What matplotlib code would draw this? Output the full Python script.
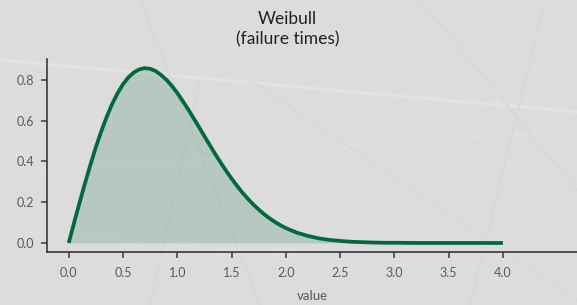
import matplotlib
matplotlib.use("Agg")
import matplotlib.pyplot as plt
from matplotlib.lines import Line2D

# values
x_values = [0.00, 0.05, 0.10, 0.15, 0.20, 0.25, 0.30, 0.35, 0.40, 0.45, 0.50,
            0.55, 0.60, 0.65, 0.70, 0.75, 0.80, 0.85, 0.90, 0.95, 1.00,
            1.05, 1.10, 1.15, 1.20, 1.25, 1.30, 1.35, 1.40, 1.45, 1.50,
            1.55, 1.60, 1.65, 1.70, 1.75, 1.80, 1.85, 1.90, 1.95, 2.00,
            2.10, 2.20, 2.30, 2.40, 2.50, 2.60, 2.70, 2.80, 2.90, 3.00,
            3.20, 3.50, 4.00]
density = [0.000, 0.100, 0.198, 0.293, 0.384, 0.470, 0.548, 0.619, 0.682, 0.735, 0.779,
           0.813, 0.837, 0.852, 0.858, 0.855, 0.844, 0.825, 0.801, 0.771, 0.736,
           0.697, 0.656, 0.613, 0.569, 0.524, 0.480, 0.436, 0.394, 0.354, 0.316,
           0.281, 0.247, 0.217, 0.189, 0.164, 0.141, 0.121, 0.103, 0.087, 0.073,
           0.051, 0.035, 0.023, 0.015, 0.010, 0.006, 0.004, 0.002, 0.001, 0.001,
           0.000, 0.000, 0.000]
x_ticks = [0.0, 0.5, 1.0, 1.5, 2.0, 2.5, 3.0, 3.5, 4.0]
y_ticks = [0.0, 0.2, 0.4, 0.6, 0.8]
title_text = "Weibull\n(failure times)"
x_label = "value"

BG = "#dcdcdc"
GREEN = "#006a3c"

plt.rcParams['font.family'] = ['Lato', 'DejaVu Sans']

fig = plt.figure(figsize=(5.77, 3.05), dpi=100, facecolor=BG)

# faint decorative background lines (figure pixel coordinates)
W, H = 577.0, 305.0
bg_lines = [((0, 60), (577, 112), "#e2e2e2", 2.5),
            ((140, 0), (260, 305), "#d6d6d6", 1.0),
            ((0, 175), (577, 130), "#dfdfdf", 1.5),
            ((420, 0), (577, 190), "#d6d6d6", 1.0),
            ((330, 0), (577, 230), "#e0e0e0", 1.2),
            ((0, 230), (577, 280), "#dfdfdf", 1.2),
            ((470, 305), (545, 0), "#d7d7d7", 1.0),
            ((150, 305), (200, 80), "#d7d7d7", 1.0),
            ((250, 80), (577, 300), "#d7d7d7", 1.0)]
for (x0, y0), (x1, y1), c, lw in bg_lines:
    fig.add_artist(Line2D([x0 / W, x1 / W], [1 - y0 / H, 1 - y1 / H],
                          transform=fig.transFigure, color=c, lw=lw, zorder=0))

ax = fig.add_axes([47 / W, 1 - 251.7 / H, 1 - 47 / W, (251.7 - 59.4) / H])
ax.set_facecolor("none")

ax.fill_between(x_values, density, 0, color=GREEN, alpha=0.17, lw=0)
ax.plot(x_values, density, color=GREEN, lw=2.7, solid_capstyle='butt')

ax.set_xlim(-0.2, 4.682)
ax.set_ylim(-0.0429, 0.901)
ax.set_xticks(x_ticks)
ax.set_xticklabels([f"{t:.1f}" for t in x_ticks])
ax.set_yticks(y_ticks)
ax.set_yticklabels([f"{t:.1f}" for t in y_ticks])

for s in ["top", "right"]:
    ax.spines[s].set_visible(False)
for s in ["left", "bottom"]:
    ax.spines[s].set_color("#3a3a3a")
    ax.spines[s].set_linewidth(1.2)

ax.tick_params(axis='both', colors="#3a3a3a", labelcolor="#5a5a5a",
               labelsize=9, length=4, width=1.1, pad=5)
ax.tick_params(axis='x', pad=7)
ax.set_xlabel(x_label, color="#5a5a5a", fontsize=9.5, labelpad=8)

fig.text(0.498, 1 - 29 / H, title_text, ha="center", va="center",
         fontsize=12.5, color="#222222", linespacing=1.3)

fig.savefig("out.png", dpi=100, facecolor=BG)
